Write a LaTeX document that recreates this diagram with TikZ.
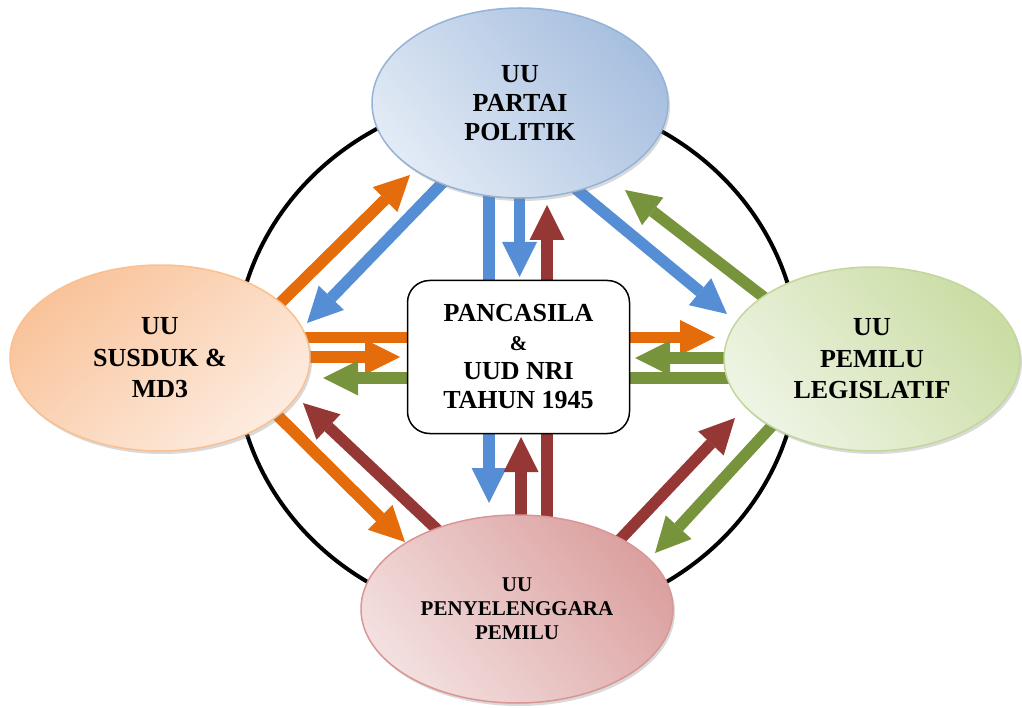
\documentclass[tikz,border=0pt]{standalone}
\usepackage{fontspec}
\setmainfont{Liberation Serif}
\usetikzlibrary{arrows.meta,shapes.geometric,shadows}
\pgfdeclarelayer{bg}
\pgfsetlayers{bg,main}
\definecolor{cOr}{HTML}{E46C0A}
\definecolor{cBl}{HTML}{558ED5}
\definecolor{cGr}{HTML}{77933C}
\definecolor{cRd}{HTML}{953735}
\definecolor{tDk}{HTML}{A7BFDF}
\definecolor{tLt}{HTML}{E2EAF5}
\definecolor{tBd}{HTML}{95B3D7}
\definecolor{lDk}{HTML}{F9C39A}
\definecolor{lLt}{HTML}{FDECE0}
\definecolor{lBd}{HTML}{FAC090}
\definecolor{rDk}{HTML}{CADDA4}
\definecolor{rLt}{HTML}{EEF4E4}
\definecolor{rBd}{HTML}{C3D69B}
\definecolor{bDk}{HTML}{DBA1A0}
\definecolor{bLt}{HTML}{F3DFDF}
\definecolor{bBd}{HTML}{D99694}
\begin{document}
\begin{tikzpicture}[x=1pt,y=-1pt,
  conn/.style={line width=11.5pt,-{Triangle[length=35pt,width=35pt,line width=0pt]}},
  lbl/.style={font=\fontsize{26}{29}\selectfont\bfseries,align=center},
  lblw/.style={font=\fontsize{26}{31.5}\selectfont\bfseries,align=center},
  oval/.style={ellipse,inner sep=0pt,line width=1.5pt,
    drop shadow={opacity=0.3,shadow xshift=2pt,shadow yshift=-3pt}},
]
\useasboundingbox (0,0) rectangle (1022,708);

% nodes
\node[oval,lbl,draw=tBd,minimum width=296pt,minimum height=190pt,
  top color=tDk,bottom color=tLt,shading angle=-50]
  (T) at (520,103) {UU\\PARTAI\\POLITIK};
\node[oval,lblw,draw=lBd,minimum width=300pt,minimum height=186pt,
  top color=lDk,bottom color=lLt,shading angle=40]
  (L) at (160,358) {UU\\SUSDUK \&\\MD3};
\node[oval,lblw,draw=rBd,minimum width=296pt,minimum height=184pt,
  top color=rDk,bottom color=rLt,shading angle=-50]
  (R) at (872,359) {UU\\PEMILU\\LEGISLATIF};
\node[oval,font=\fontsize{21}{24}\selectfont\bfseries,align=center,
  draw=bBd,minimum width=312pt,minimum height=188pt,
  top color=bDk,bottom color=bLt,shading angle=-50]
  (B) at (517,609) {UU\\PENYELENGGARA\\PEMILU};
\node[draw,line width=1.5pt,rounded corners=22pt,fill=white,
  minimum width=222pt,minimum height=153pt,align=center,
  font=\fontsize{26}{29}\selectfont\bfseries]
  (C) at (518.5,357) {PANCASILA\\{\fontsize{21}{29}\selectfont\&}\\UUD NRI\\TAHUN 1945};

% connector end points
\coordinate (t1) at (489,185);   \coordinate (b1) at (489,503);
\coordinate (t2) at (519.5,190); \coordinate (c2) at (519.5,277);
\coordinate (b3) at (547,525);   \coordinate (t3) at (547,205);
\coordinate (b4) at (521,525);   \coordinate (c4) at (521,437);
\coordinate (l5) at (300,337.5); \coordinate (r5) at (715,337.5);
\coordinate (l6) at (300,357);   \coordinate (c6) at (400,357);
\coordinate (r7) at (740,378);   \coordinate (l7) at (323,378);
\coordinate (r8) at (740,358);   \coordinate (c8) at (635,358);
\coordinate (l9) at (270,313);   \coordinate (t9) at (410,175);
\coordinate (t10) at (450,175);  \coordinate (l10) at (307,323);
\coordinate (t11) at (570,184);  \coordinate (r11) at (727,314);
\coordinate (r12) at (770,302);  \coordinate (t12) at (625,190);
\coordinate (l13) at (270,408);  \coordinate (b13) at (405,542);
\coordinate (b14) at (445,537);  \coordinate (l14) at (303,403);
\coordinate (b15) at (612,548);  \coordinate (r15) at (735,418);
\coordinate (r16) at (780,417);  \coordinate (b16) at (655,553);

\begin{pgfonlayer}{bg}
  \draw[line width=4pt] (517,358) ellipse [x radius=282pt, y radius=264pt];
  \draw[conn,cBl] (t1) -- (b1);
  \draw[conn,cBl] (t2) -- (c2);
  \draw[conn,cRd] (b3) -- (t3);
  \draw[conn,cRd] (b4) -- (c4);
  \draw[conn,cOr] (l5) -- (r5);
  \draw[conn,cOr] (l6) -- (c6);
  \draw[conn,cGr] (r7) -- (l7);
  \draw[conn,cGr] (r8) -- (c8);
  \draw[conn,cOr] (l9) -- (t9);
  \draw[conn,cBl] (t10) -- (l10);
  \draw[conn,cBl] (t11) -- (r11);
  \draw[conn,cGr] (r12) -- (t12);
  \draw[conn,cOr] (l13) -- (b13);
  \draw[conn,cRd] (b14) -- (l14);
  \draw[conn,cRd] (b15) -- (r15);
  \draw[conn,cGr] (r16) -- (b16);
\end{pgfonlayer}
\end{tikzpicture}
\end{document}
